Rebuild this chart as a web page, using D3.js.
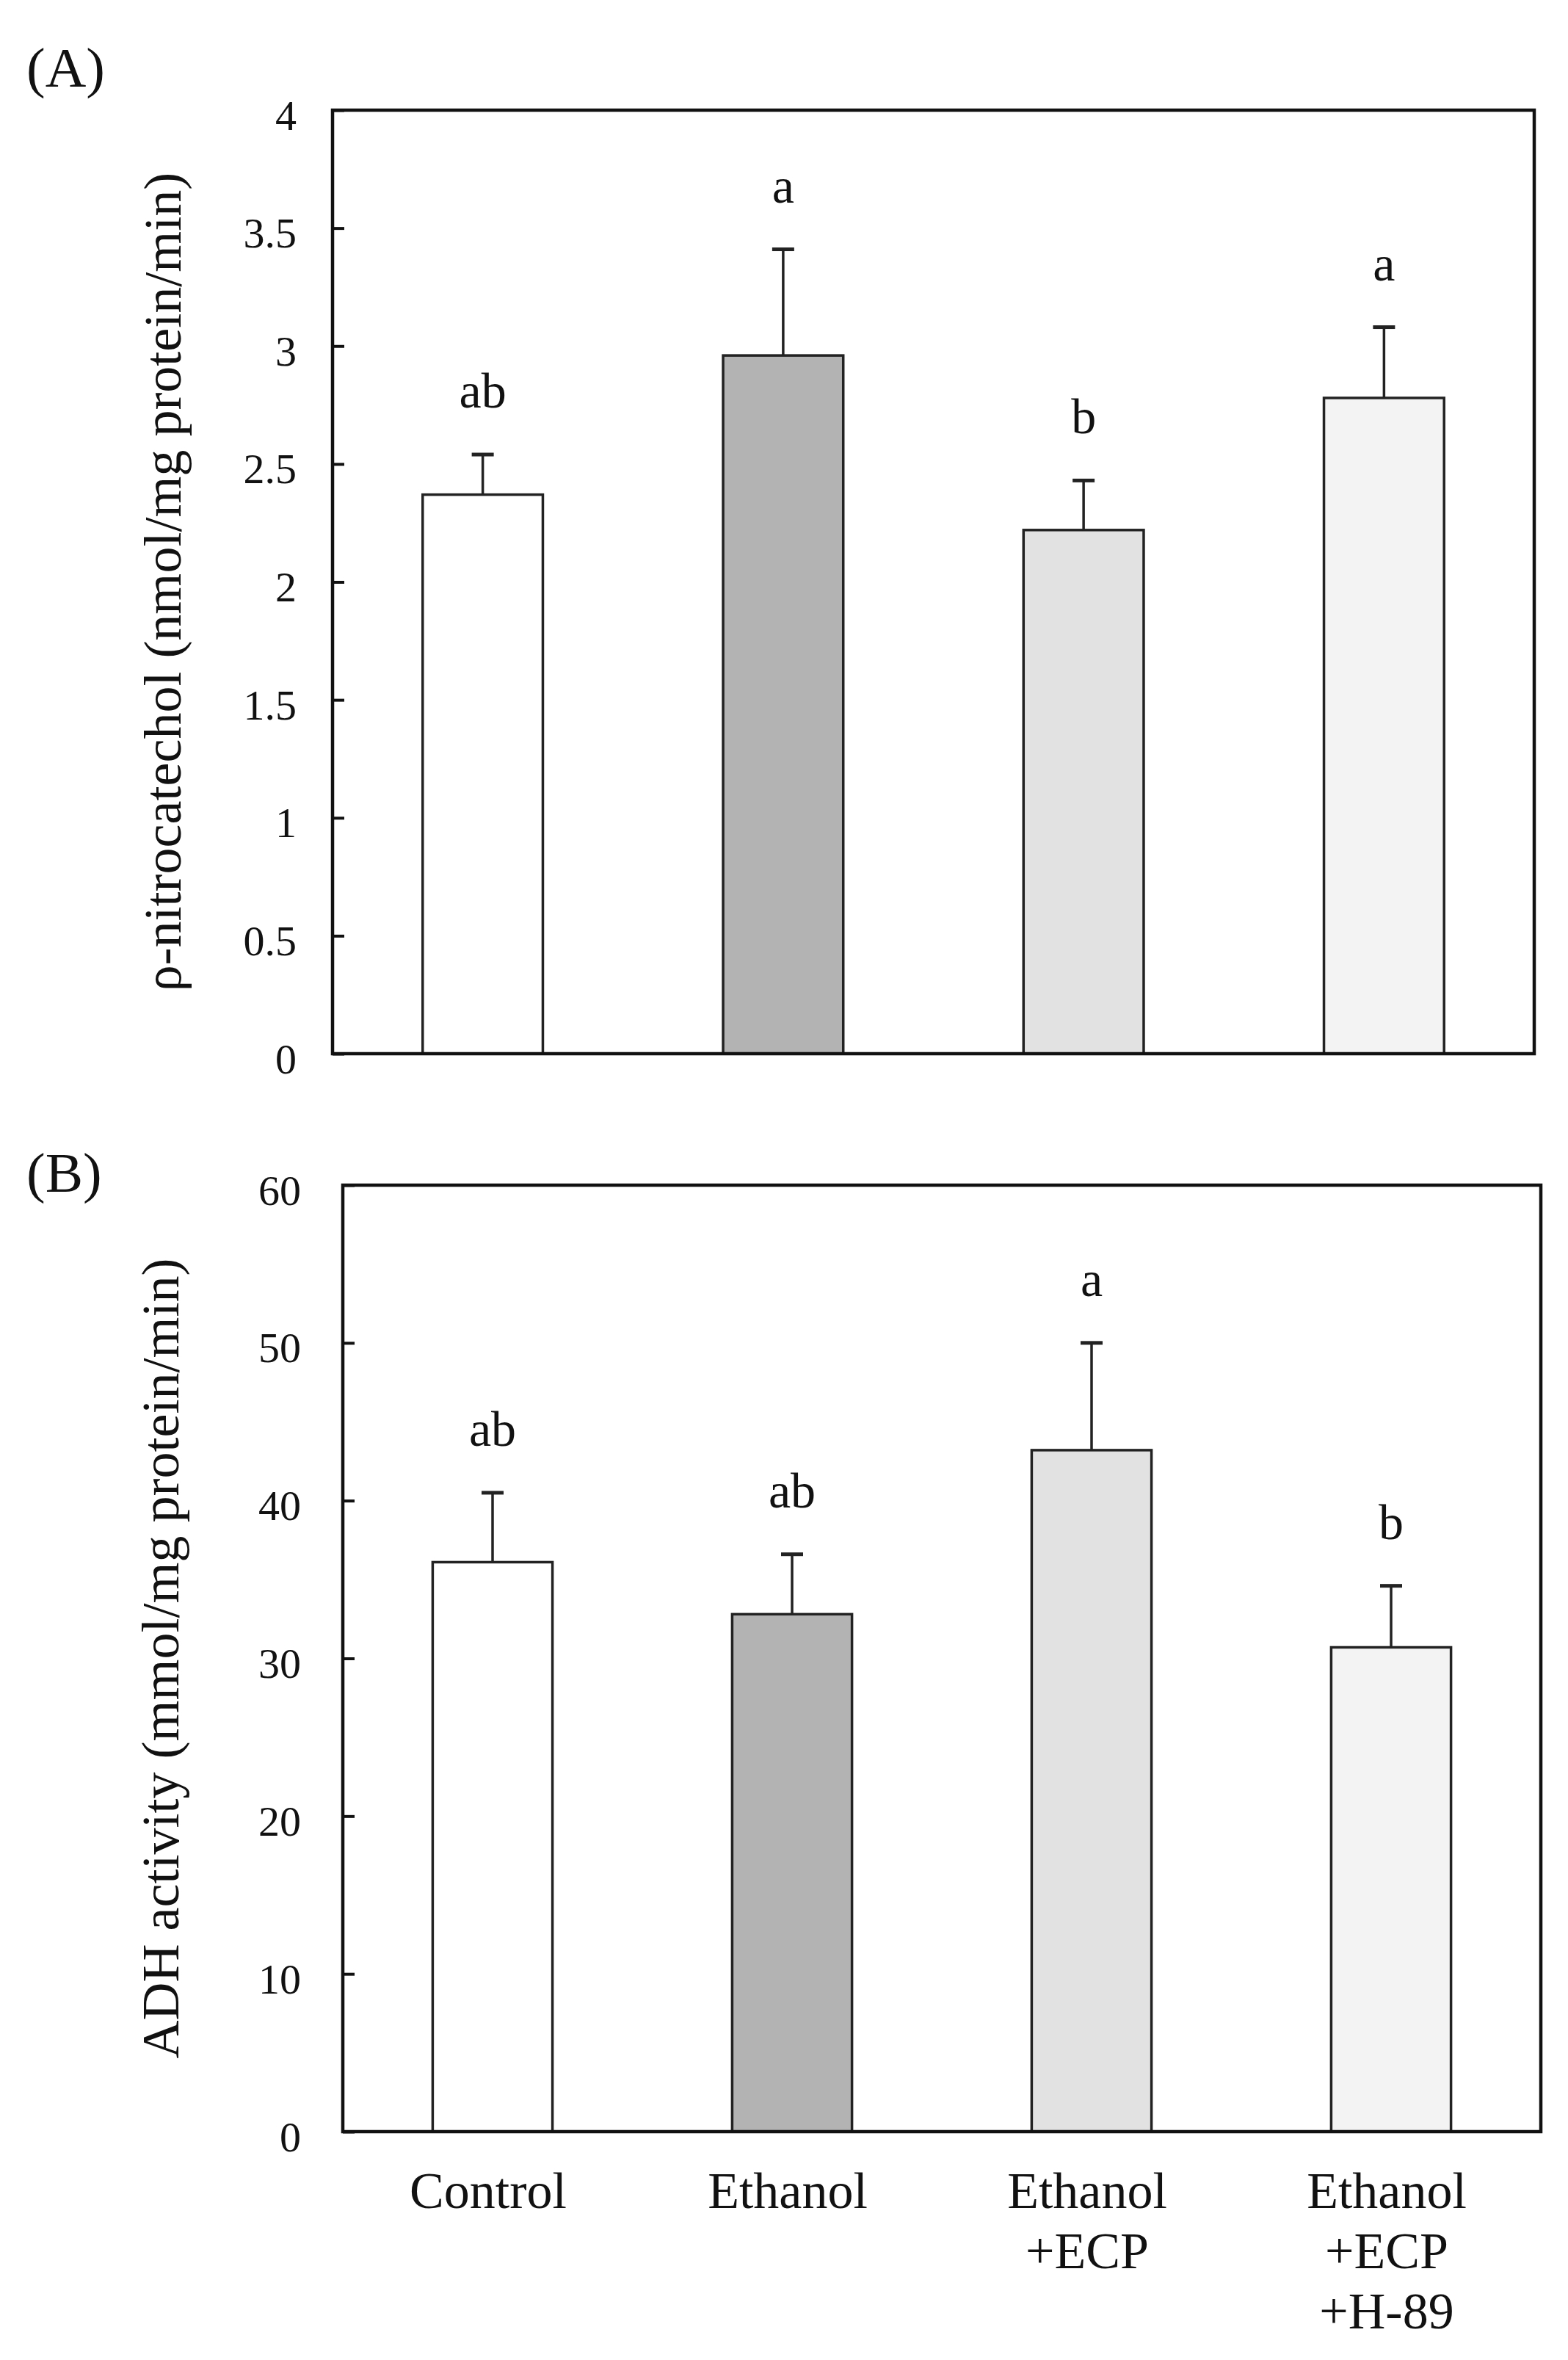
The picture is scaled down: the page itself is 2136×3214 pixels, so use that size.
<!DOCTYPE html>
<html lang="en">
<head>
    <meta charset="UTF-8">
    <title>nitrocatechol / ADH</title>
    <script src="https://cdn.jsdelivr.net/npm/d3@7/dist/d3.min.js"></script>
</head>
<style>
    body { margin: 0; background: #fff; }
    svg text { font-family: "Liberation Serif", "Times New Roman", serif; fill: #111; }
    .tick text { font-size: 58px; }
    .tick line { stroke: #111; stroke-width: 4px; }
    .domain { display: none; }
</style>
<body>
<svg class="chart"></svg>
<script>
    // groups and their x-axis labels (one entry per line)
    let groups = ['Control', 'Ethanol', 'Ethanol+ECP', 'Ethanol+ECP+H-89'];
    let groupLines = [['Control'], ['Ethanol'], ['Ethanol', '+ECP'], ['Ethanol', '+ECP', '+H-89']];

    // panel A: p-nitrocatechol
    let nitroMean = [2.37, 2.96, 2.22, 2.78];
    let nitroErr = [0.17, 0.45, 0.21, 0.30];
    let nitroLetters = ['ab', 'a', 'b', 'a'];
    let nitroTicks = [0, 0.5, 1, 1.5, 2, 2.5, 3, 3.5, 4];

    // panel B: ADH activity
    let adhMean = [36.1, 32.8, 43.2, 30.7];
    let adhErr = [4.4, 3.8, 6.8, 3.9];
    let adhLetters = ['ab', 'ab', 'a', 'b'];
    let adhTicks = [0, 10, 20, 30, 40, 50, 60];

    let barFills = ['#ffffff', '#b3b3b3', '#e2e2e2', '#f3f3f3'];

    let width = 2136,
        height = 3214;

    let svg = d3.select('.chart')
        .attr('width', width)
        .attr('height', height);

    function drawPanel(p) {
        let x = d3.scaleBand()
            .domain(groups)
            .range([p.left, p.right])
            .paddingInner(0.6)
            .paddingOuter(0.3);

        let y = d3.scaleLinear()
            .domain([0, d3.max(p.ticks)])
            .range([p.bottom, p.top]);

        let g = svg.append('g');

        // y axis, ticks point inward
        g.append('g')
            .attr('transform', 'translate(' + p.left + ',0)')
            .call(d3.axisLeft(y)
                .tickValues(p.ticks)
                .tickFormat(d => d)
                .tickSize(-16)
                .tickPadding(p.pad))
            .selectAll('text')
            .attr('dy', '0.45em');

        let rows = groups.map((k, i) => ({k: k, m: p.mean[i], e: p.err[i], l: p.letters[i], f: barFills[i]}));

        let bar = g.selectAll('.bar')
            .data(rows)
            .enter().append('g')
            .attr('class', 'bar');

        // error bars (upper only)
        bar.append('line')
            .attr('x1', d => x(d.k) + x.bandwidth() / 2)
            .attr('x2', d => x(d.k) + x.bandwidth() / 2)
            .attr('y1', d => y(d.m))
            .attr('y2', d => y(d.m + d.e))
            .attr('stroke', '#222')
            .attr('stroke-width', 3.5);

        bar.append('line')
            .attr('x1', d => x(d.k) + x.bandwidth() / 2 - 15)
            .attr('x2', d => x(d.k) + x.bandwidth() / 2 + 15)
            .attr('y1', d => y(d.m + d.e))
            .attr('y2', d => y(d.m + d.e))
            .attr('stroke', '#222')
            .attr('stroke-width', 5);

        bar.append('rect')
            .attr('x', d => x(d.k))
            .attr('y', d => y(d.m))
            .attr('width', x.bandwidth())
            .attr('height', d => y(0) - y(d.m))
            .attr('fill', d => d.f)
            .attr('stroke', '#222')
            .attr('stroke-width', 3.5);

        bar.append('text')
            .attr('x', d => x(d.k) + x.bandwidth() / 2)
            .attr('y', d => y(d.m + d.e) - 64)
            .attr('text-anchor', 'middle')
            .style('font-size', '68px')
            .text(d => d.l);

        // frame
        g.append('rect')
            .attr('x', p.left)
            .attr('y', p.top)
            .attr('width', p.right - p.left)
            .attr('height', p.bottom - p.top)
            .attr('fill', 'none')
            .attr('stroke', '#111')
            .attr('stroke-width', 4.5);

        // axis title
        g.append('text')
            .attr('transform', 'translate(' + p.titleX + ',' + (p.top + p.bottom) / 2 + ') rotate(-90)')
            .attr('text-anchor', 'middle')
            .style('font-size', '72px')
            .text(p.title);

        // panel letter
        g.append('text')
            .attr('x', 36)
            .attr('y', p.tagY)
            .style('font-size', '77px')
            .text(p.tag);

        return x;
    }

    drawPanel({
        left: 453, right: 2090, top: 150, bottom: 1435, pad: 49,
        mean: nitroMean, err: nitroErr, letters: nitroLetters, ticks: nitroTicks,
        title: 'ρ-nitrocatechol (nmol/mg protein/min)', titleX: 246,
        tag: '(A)', tagY: 118
    });

    let xB = drawPanel({
        left: 467, right: 2099, top: 1614, bottom: 2903, pad: 57,
        mean: adhMean, err: adhErr, letters: adhLetters, ticks: adhTicks,
        title: 'ADH activity (mmol/mg protein/min)', titleX: 243,
        tag: '(B)', tagY: 1623
    });

    // category labels under panel B
    let lab = svg.selectAll('.xlab')
        .data(groups)
        .enter().append('text')
        .attr('class', 'xlab')
        .attr('text-anchor', 'middle')
        .style('font-size', '70px')
        .attr('transform', d => 'translate(' + (xB(d) + xB.bandwidth() / 2 - 6) + ',3007)');

    lab.selectAll('tspan')
        .data((d, i) => groupLines[i])
        .enter().append('tspan')
        .attr('x', 0)
        .attr('y', (d, i) => i * 82)
        .text(d => d);
</script>
</body>
</html>
